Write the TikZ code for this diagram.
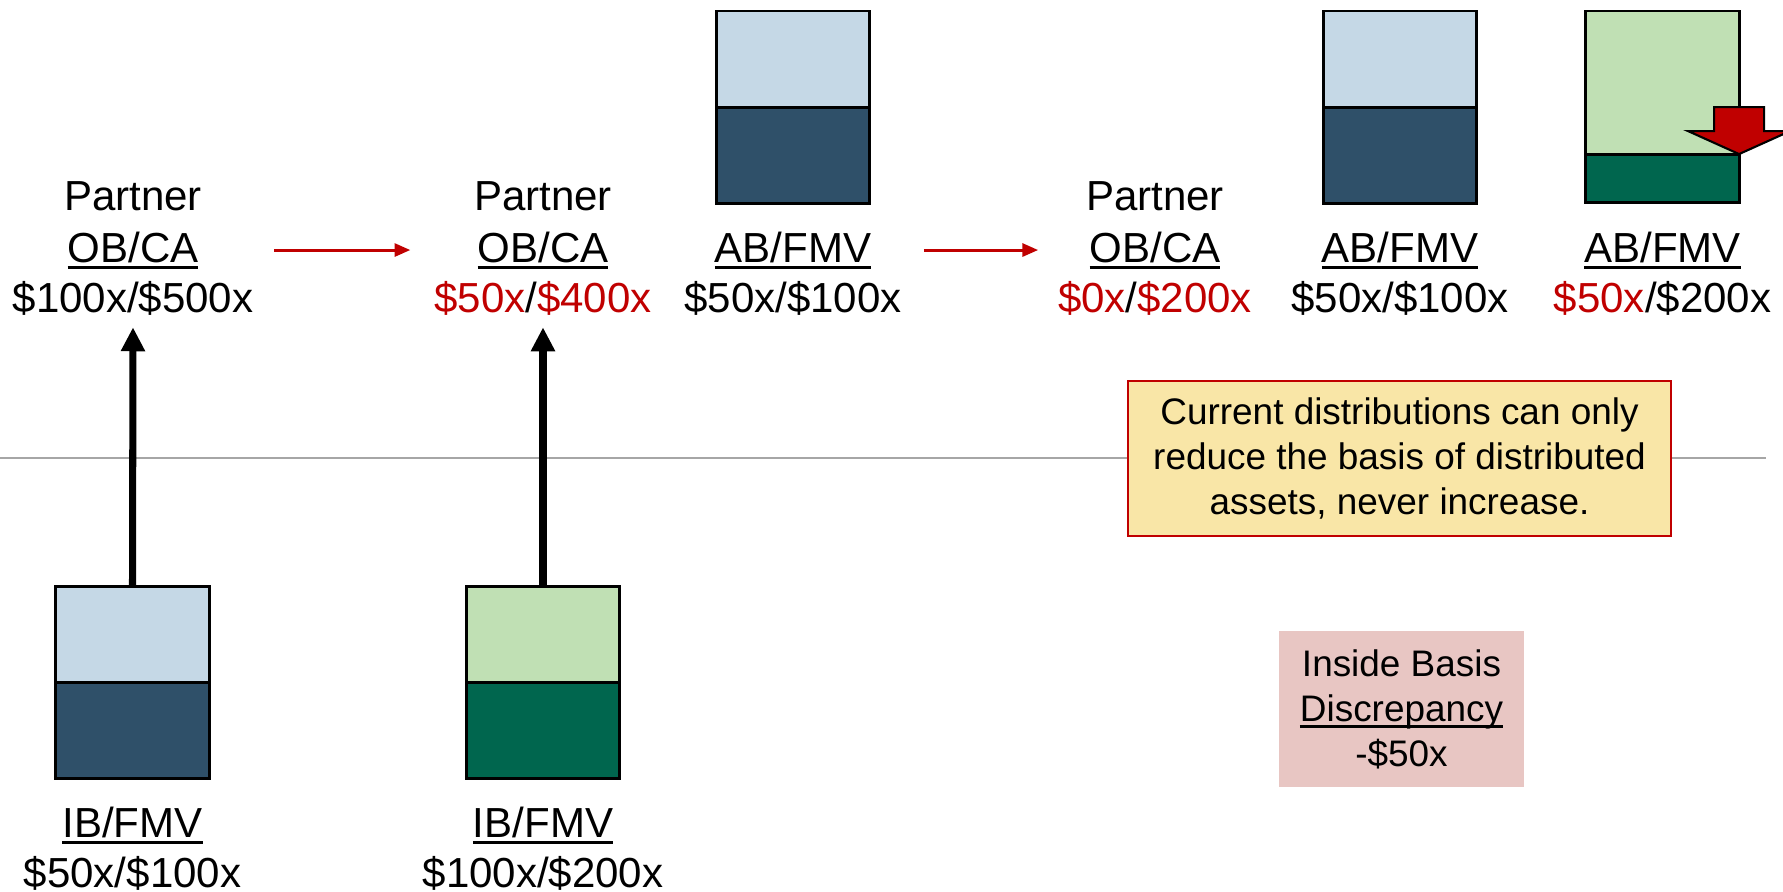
\documentclass[tikz,border=0pt]{standalone}
\usepackage{fontspec}
\setmainfont{Liberation Sans}
\usepackage{tikz}
\usetikzlibrary{positioning,arrows.meta}
\definecolor{ltblue}{HTML}{C5D8E6}
\definecolor{dkblue}{HTML}{2F5069}
\definecolor{ltgreen}{HTML}{C0E0B4}
\definecolor{dkgreen}{HTML}{00664E}
\definecolor{redc}{HTML}{C00000}
\definecolor{notefill}{HTML}{F9E6A7}
\definecolor{pinkfill}{HTML}{E8C6C3}
\definecolor{sepgray}{HTML}{A6A6A6}
% underline at a fixed depth below the baseline
\newcommand{\ulbar}[1]{\setbox0\hbox{#1}\rlap{\rule[-1.85pt]{\wd0}{0.85pt}}\box0}
\newcommand{\rd}[1]{\textcolor{redc}{#1}}
\tikzset{
% Two halves of a basis/value bar
half/.style={draw=black,line width=0.85pt,minimum width=1.53cm,minimum height=0.96cm,
  inner sep=0pt,outer sep=0pt},
% Label lines, placed on their baselines
lbl/.style={anchor=base,font=\fontsize{11.95}{14.5}\selectfont},
note/.style={align=center,font=\fontsize{10.5}{12.8}\selectfont,inner sep=0pt},
up arrow/.style={line width=2pt,-{Triangle[length=6.8pt,width=6.5pt]}},
step arrow/.style={draw=redc,line width=0.85pt,-{Triangle[length=4.5pt,width=3.7pt]}},
sep line/.style={draw=sepgray,line width=0.6pt}
}
\begin{document}
\begin{tikzpicture}[x=0.01cm,y=-0.01cm]
  \useasboundingbox (0,0) rectangle (1783,891);
  % Separator line
  \coordinate (sepL) at (0,458);
  \coordinate (sepR) at (1766,458);
  \draw[sep line] (sepL) -- (sepR);
  % Contributed assets (lower row)
  \node(ib1top)[half,fill=ltblue,anchor=north] at (132.5,586) {};
  \node(ib1bot)[half,fill=dkblue,below=0pt of ib1top] {};
  \node(ib2top)[half,fill=ltgreen,anchor=north] at (543,586) {};
  \node(ib2bot)[half,fill=dkgreen,below=0pt of ib2top] {};
  \node(ib1a)[lbl] at (132.5,837) {\ulbar{IB/FMV}};
  \node(ib1b)[lbl] at (132.5,887) {\$50x/\$100x};
  \node(ib2a)[lbl] at (543,837) {\ulbar{IB/FMV}};
  \node(ib2b)[lbl] at (543,887) {\$100x/\$200x};
  % Partner before and after each step
  \node(ob1a)[lbl] at (133,210) {Partner};
  \node(ob1b)[lbl] at (133,262) {\ulbar{OB/CA}};
  \node(ob1c)[lbl] at (133,312) {\$100x/\$500x};
  \node(ob2a)[lbl] at (543,210) {Partner};
  \node(ob2b)[lbl] at (543,262) {\ulbar{OB/CA}};
  \node(ob2c)[lbl] at (543,312) {\rd{\$50x}/\rd{\$400x}};
  \node(ob3a)[lbl] at (1155,210) {Partner};
  \node(ob3b)[lbl] at (1155,262) {\ulbar{OB/CA}};
  \node(ob3c)[lbl] at (1155,312) {\rd{\$0x}/\rd{\$200x}};
  % Distributed assets (upper row)
  \node(ab1top)[half,fill=ltblue,anchor=north] at (793,11) {};
  \node(ab1bot)[half,fill=dkblue,below=0pt of ab1top] {};
  \node(ab2top)[half,fill=ltblue,anchor=north] at (1400,11) {};
  \node(ab2bot)[half,fill=dkblue,below=0pt of ab2top] {};
  \node(ab3top)[half,fill=ltgreen,anchor=north,minimum height=1.43cm] at (1662.5,11) {};
  \node(ab3bot)[half,fill=dkgreen,minimum height=0.48cm,below=0pt of ab3top] {};
  \node(ab1a)[lbl] at (793,262) {\ulbar{AB/FMV}};
  \node(ab1b)[lbl] at (793,312) {\$50x/\$100x};
  \node(ab2a)[lbl] at (1400,262) {\ulbar{AB/FMV}};
  \node(ab2b)[lbl] at (1400,312) {\$50x/\$100x};
  \node(ab3a)[lbl] at (1662.5,262) {\ulbar{AB/FMV}};
  \node(ab3b)[lbl] at (1662.5,312) {\rd{\$50x}/\$200x};
  % Basis step-down marker
  \draw[fill=redc,draw=black,line width=0.6pt] (ab3top.south east) -- ++(-51,-23) -- ++(26,0)
    -- ++(0,-24) -- ++(50,0) -- ++(0,24) -- ++(26,0) -- cycle;
  % Contributions
  \draw[up arrow] (ib1top.north) -- (ob1c.south);
  \draw[up arrow] (ib2top.north) -- (ob2c.south);
  % Distributions
  \draw[step arrow,shorten <=18pt,shorten >=15.6pt] (ob1b.east) -- (ob2b.west);
  \draw[step arrow,shorten <=11.4pt,shorten >=11.1pt] (ab1a.east) -- (ob3b.west);
  % Notes
  \node(rule)[note,draw=redc,line width=0.7pt,fill=notefill,minimum width=5.43cm,
    minimum height=1.55cm] at (1399.5,458.5)
    {Current distributions can only\\reduce the basis of distributed\\assets, never increase.};
  \node(ibd)[note,fill=pinkfill,minimum width=2.45cm,minimum height=1.56cm] at (1401.5,709)
    {Inside Basis\\\ulbar{Discrepancy}\\-\$50x};
\end{tikzpicture}
\end{document}
